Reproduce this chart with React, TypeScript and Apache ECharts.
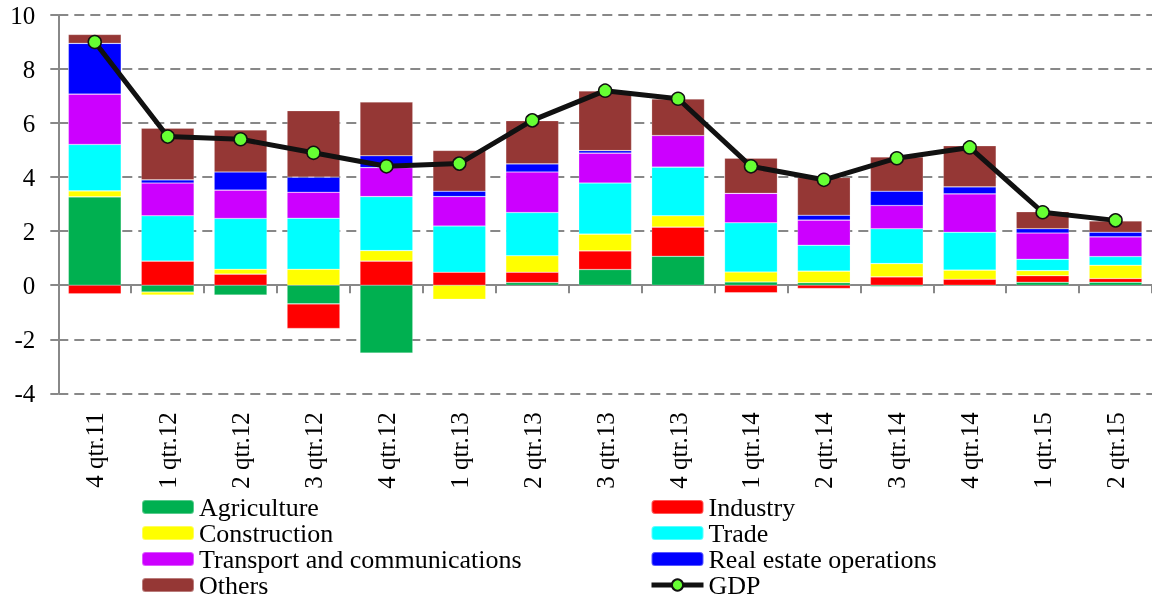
import React, { useEffect, useRef } from "react";
import * as echarts from "echarts";

const categories = ["4 qtr.11", "1 qtr.12", "2 qtr.12", "3 qtr.12", "4 qtr.12", "1 qtr.13", "2 qtr.13", "3 qtr.13", "4 qtr.13", "1 qtr.14", "2 qtr.14", "3 qtr.14", "4 qtr.14", "1 qtr.15", "2 qtr.15"];
const agriculture = [3.27, -0.25, -0.36, -0.69, -2.51, 0, 0.1, 0.58, 1.07, 0.12, 0.09, -0.05, -0.03, 0.11, 0.11];
const industry = [-0.32, 0.89, 0.41, -0.91, 0.89, 0.48, 0.38, 0.69, 1.08, -0.28, -0.12, 0.31, 0.22, 0.24, 0.14];
const construction = [0.22, -0.11, 0.18, 0.59, 0.39, -0.52, 0.61, 0.62, 0.42, 0.37, 0.43, 0.49, 0.34, 0.19, 0.49];
const trade = [1.72, 1.68, 1.88, 1.89, 2.0, 1.71, 1.6, 1.89, 1.8, 1.82, 0.96, 1.29, 1.4, 0.42, 0.32];
const transport = [1.86, 1.21, 1.05, 0.96, 1.07, 1.09, 1.5, 1.11, 1.17, 1.09, 0.93, 0.86, 1.42, 0.97, 0.73];
const realEstate = [1.88, 0.12, 0.67, 0.56, 0.44, 0.2, 0.3, 0.09, 0, -0.02, 0.18, 0.53, 0.26, 0.16, 0.17];
const others = [0.33, 1.91, 1.56, 2.46, 1.99, 1.51, 1.6, 2.21, 1.35, 1.3, 1.4, 1.27, 1.52, 0.63, 0.42];
const gdp = [9.0, 5.5, 5.4, 4.9, 4.4, 4.5, 6.1, 7.2, 6.9, 4.4, 3.9, 4.7, 5.1, 2.7, 2.4];

const yTicks = { min: -4, max: 10, interval: 2 };

const FONT = '"Liberation Serif", "Times New Roman", serif';

const barSeries = [
  { name: "Agriculture", data: agriculture, color: "#00B050" },
  { name: "Industry", data: industry, color: "#FF0000" },
  { name: "Construction", data: construction, color: "#FFFF00" },
  { name: "Trade", data: trade, color: "#00FFFF" },
  { name: "Transport and communications", data: transport, color: "#CC00FF" },
  { name: "Real estate operations", data: realEstate, color: "#0000FF" },
  { name: "Others", data: others, color: "#953735" },
];

export default function App() {
  const ref = useRef<HTMLDivElement>(null);
  useEffect(() => {
    if (!ref.current) return;
    const chart = echarts.init(ref.current, null, { renderer: "svg" });
    const legendText = { fontFamily: FONT, fontSize: 26, color: "#000", lineHeight: 26 };
    const legendBase = {
      orient: "vertical",
      top: 494,
      height: 130,
      itemWidth: 52,
      itemHeight: 14,
      itemGap: 0,
      padding: 0,
      textStyle: legendText,
    };
    chart.setOption({
      animation: false,
      textStyle: { fontFamily: FONT },
      grid: { left: 58.3, top: 15, width: 1100, height: 378.3, containLabel: false },
      legend: [
        {
          ...legendBase,
          left: 141,
          data: ["Agriculture", "Construction", "Transport and communications", "Others"],
        },
        {
          ...legendBase,
          left: 649,
          data: ["Industry", "Trade", "Real estate operations", { name: "GDP", lineStyle: { width: 5, color: "#111" } }],
        },
      ],
      xAxis: [
        {
          type: "category",
          data: categories,
          position: "bottom",
          axisLine: { onZero: true, lineStyle: { color: "#888", width: 2 } },
          axisTick: { show: true, length: 8, lineStyle: { color: "#888", width: 2 } },
          axisLabel: { show: false },
          splitLine: { show: false },
        },
        {
          type: "category",
          data: categories,
          position: "bottom",
          axisLine: { show: false, onZero: false },
          axisTick: { show: false },
          axisLabel: { show: true, rotate: 90, margin: 19, fontFamily: FONT, fontSize: 25, color: "#000" },
          splitLine: { show: false },
        },
      ],
      yAxis: {
        type: "value",
        min: yTicks.min,
        max: yTicks.max,
        interval: yTicks.interval,
        axisLine: { show: true, lineStyle: { color: "#888", width: 2 } },
        axisTick: { show: true, length: 8, lineStyle: { color: "#888", width: 2 } },
        axisLabel: { margin: 23, fontFamily: FONT, fontSize: 25, color: "#000" },
        splitLine: { show: true, lineStyle: { color: "#888", width: 2, type: [10, 6] } },
      },
      series: [
        ...barSeries.map((s) => ({
          name: s.name,
          type: "bar",
          stack: "total",
          xAxisIndex: 0,
          barWidth: "72.5%",
          data: s.data,
          itemStyle: { color: s.color, borderColor: "rgba(255,255,255,0.35)", borderWidth: 0.6 },
        })),
        {
          name: "GDP",
          type: "line",
          xAxisIndex: 0,
          data: gdp,
          z: 10,
          symbol: "circle",
          symbolSize: 13,
          lineStyle: { color: "#111", width: 5 },
          itemStyle: { color: "#66FF33", borderColor: "#111", borderWidth: 1.5 },
        },
      ],
    });
    return () => chart.dispose();
  }, []);
  return <div ref={ref} style={{ position: "fixed", left: 0, top: 0, width: 1152, height: 598 }} />;
}
